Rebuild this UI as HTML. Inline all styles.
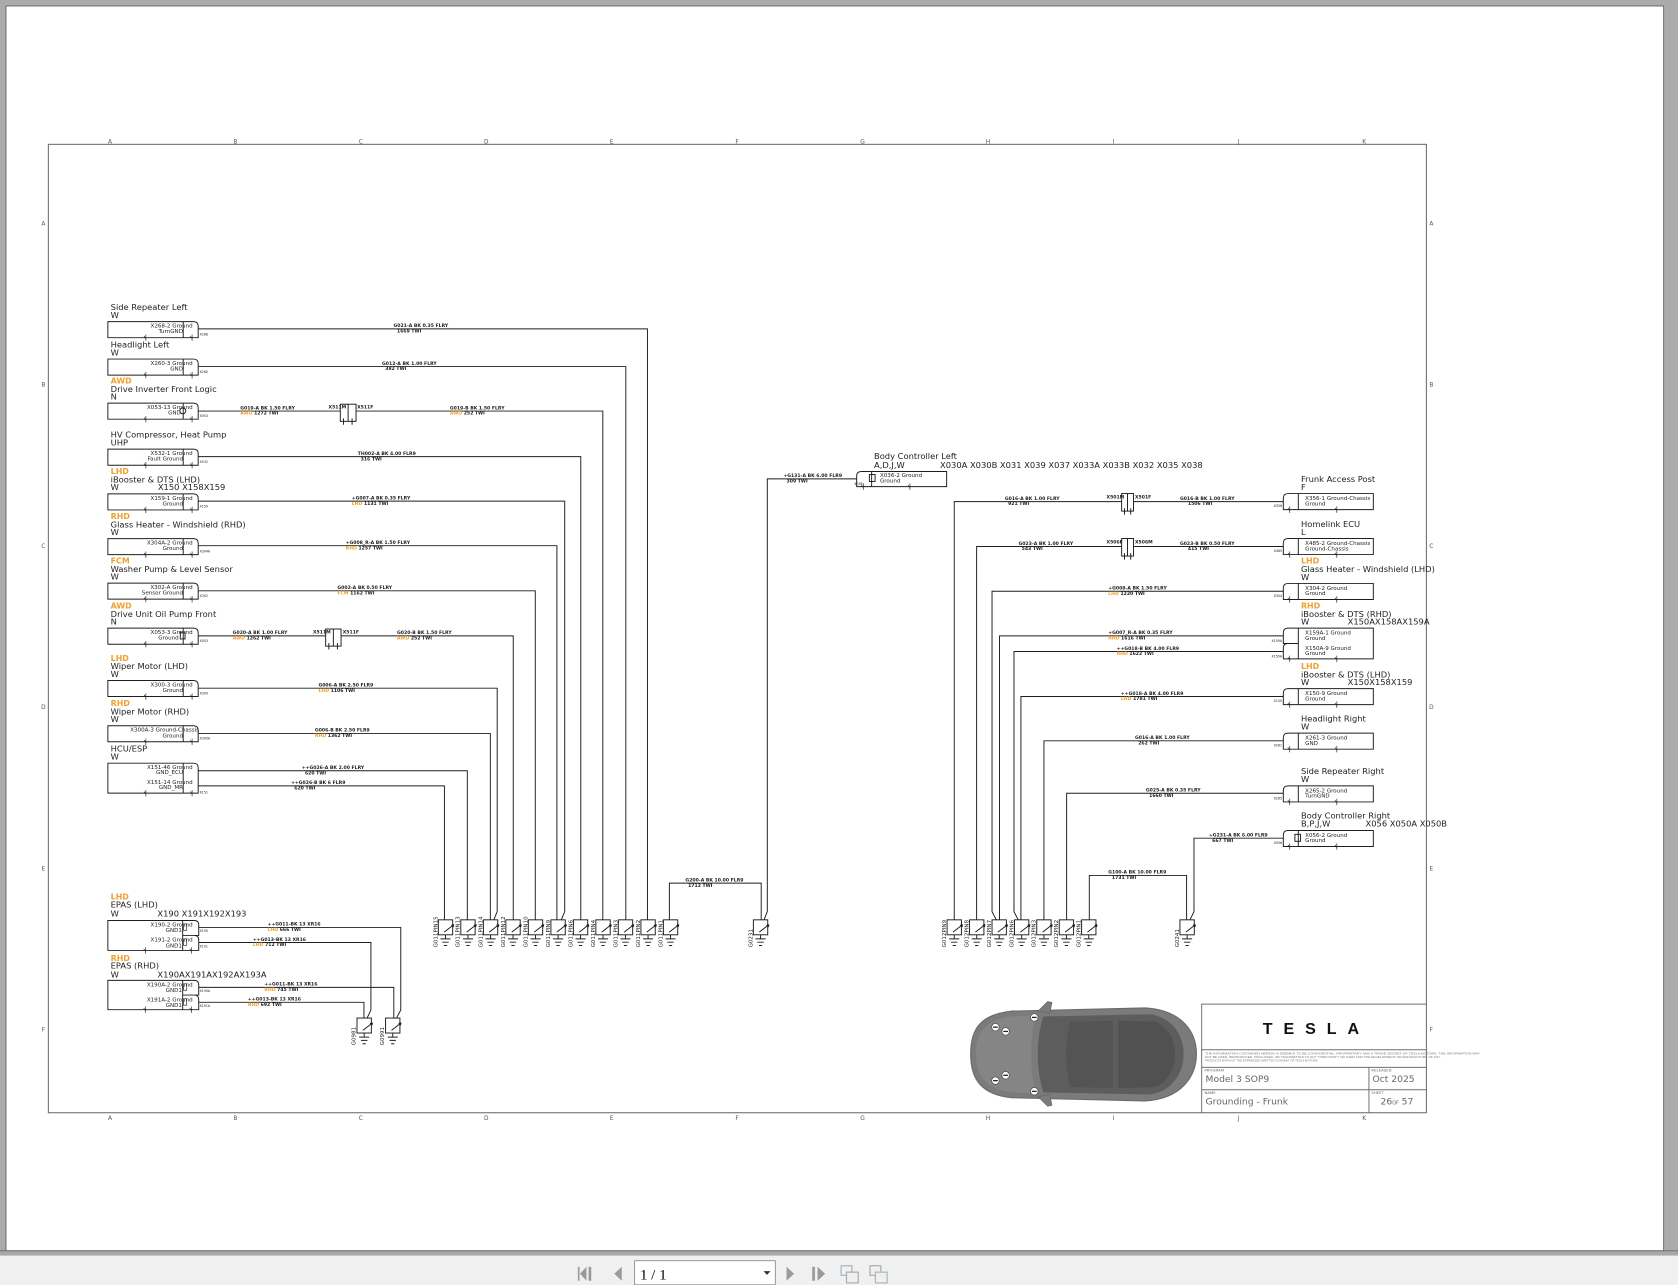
<!DOCTYPE html>
<html><head><meta charset="utf-8"><style>
html,body{margin:0;padding:0;background:#ababab;overflow:hidden}
svg{display:block}
.w{stroke:#1e1e1e;stroke-width:0.9;fill:none}
.wt{stroke:#1e1e1e;stroke-width:0.6;fill:none}
.t{font-family:"DejaVu Sans","Liberation Sans",sans-serif;fill:#222}
.ti{font-size:7.8px}
.o{font-family:"DejaVu Sans","Liberation Sans",sans-serif;font-size:7.4px;font-weight:bold;fill:#f0a030}
.bx{font-size:5.2px}
.wl{font-size:4.3px;font-weight:bold}
.pn{font-size:3px}
.lt{font-family:"DejaVu Sans","Liberation Sans",sans-serif;font-size:5.5px;fill:#555}
.og{fill:#f0a030;font-weight:bold}
.gl{font-family:"DejaVu Sans","Liberation Sans",sans-serif;font-size:5.2px;fill:#222}
.tb{font-family:"DejaVu Sans","Liberation Sans",sans-serif;fill:#666}
</style></head><body>
<svg width="1678" height="1285" viewBox="0 0 1568 1201" preserveAspectRatio="none" xmlns="http://www.w3.org/2000/svg">
<defs>
<g id="lb">
<path d="M0,0 H80 Q84.4,0 84.4,4.4 V15 H0 Z" class="w"/>
<path d="M70.4,0 V15" class="w"/>
<path d="M35.5,12 V18 M33.8,13.5 L35.5,16 M78.7,12 V18 M77,13.5 L78.7,16" class="wt"/>
</g>
<g id="rb">
<path d="M4.4,0 H84.1 V15 H0 V4.4 Q0,0 4.4,0 Z" class="w"/>
<path d="M14,0 V15" class="w"/>
<path d="M6,12 V18 M4.3,13.5 L6,16 M50,12 V18 M48.3,13.5 L50,16" class="wt"/>
</g>
<g id="gd">
<rect x="0" y="0" width="13.4" height="14" class="w"/>
<path d="M5.5,11.5 L14.5,4.5 M14.5,4.5 L12.2,5.1 M14.5,4.5 L13.8,6.8" class="w"/>
<path d="M6.7,14 V17.8 M2,17.8 H11.4 M3.7,20.9 H9.7 M5.2,24 H8.2" class="w"/>
</g>
</defs>

<!-- viewer background and page -->
<rect x="0" y="0" width="1568" height="1201" fill="#ababab"/>
<rect x="5.6" y="5.6" width="1549" height="1163.4" fill="#ffffff" stroke="#5a5a5a" stroke-width="0.8"/>
<!-- toolbar -->
<rect x="0" y="1169" width="1568" height="32" fill="#f0f0f0"/>
<rect x="0" y="1169" width="1568" height="4.5" fill="#a8a8a8"/>
<line x1="0" y1="1169" x2="1568" y2="1169" stroke="#666" stroke-width="0.8"/>
<polygon points="548,1184 548,1197 542,1190.5" fill="#9a9a9a"/>
<rect x="550" y="1184" width="2.5" height="13" fill="#9a9a9a"/>
<rect x="540" y="1184" width="1.5" height="13" fill="#9a9a9a"/>
<polygon points="581,1184 581,1197 574,1190.5" fill="#9a9a9a"/>
<rect x="593" y="1178.3" width="131.5" height="22.5" fill="#ffffff" stroke="#8a8a8a" stroke-width="0.8"/>
<text x="598" y="1196" font-family="Liberation Serif, serif" font-size="14" fill="#000">1 / 1</text>
<polygon points="713.5,1188 720,1188 716.7,1191.5" fill="#333"/>
<polygon points="735,1184 735,1197 742,1190.5" fill="#9a9a9a"/>
<rect x="759" y="1184" width="2.5" height="13" fill="#9a9a9a"/>
<polygon points="764,1184 764,1197 771,1190.5" fill="#9a9a9a"/>
<rect x="786" y="1183" width="10" height="9" fill="none" stroke="#a8b8c8" stroke-width="1.2"/>
<rect x="791" y="1189" width="11" height="10" fill="#f0f0f0" stroke="#b0b0b0" stroke-width="1.2"/>
<rect x="813" y="1183" width="10" height="9" fill="none" stroke="#b0b0b0" stroke-width="1.2"/>
<rect x="818" y="1189" width="11" height="10" fill="#f0f0f0" stroke="#a8c0b0" stroke-width="1.2"/>

<!-- drawing frame -->
<rect x="45.2" y="134.9" width="1287.7" height="905.1" fill="none" stroke="#6e6e6e" stroke-width="1"/>
<g class="lt" text-anchor="middle">
<text x="102.8" y="134.2">A</text><text x="220" y="134.2">B</text><text x="337.2" y="134.2">C</text><text x="454.4" y="134.2">D</text><text x="571.6" y="134.2">E</text><text x="688.8" y="134.2">F</text><text x="806" y="134.2">G</text><text x="923.2" y="134.2">H</text><text x="1040.4" y="134.2">I</text><text x="1157.6" y="134.2">J</text><text x="1274.8" y="134.2">K</text>
<text x="102.8" y="1047">A</text><text x="220" y="1047">B</text><text x="337.2" y="1047">C</text><text x="454.4" y="1047">D</text><text x="571.6" y="1047">E</text><text x="688.8" y="1047">F</text><text x="806" y="1047">G</text><text x="923.2" y="1047">H</text><text x="1040.4" y="1047">I</text><text x="1157.6" y="1047">J</text><text x="1274.8" y="1047">K</text>
<text x="40.5" y="210.7">A</text><text x="40.5" y="361.4">B</text><text x="40.5" y="512">C</text><text x="40.5" y="662.7">D</text><text x="40.5" y="813.4">E</text><text x="40.5" y="964">F</text>
<text x="1337.5" y="210.7">A</text><text x="1337.5" y="361.4">B</text><text x="1337.5" y="512">C</text><text x="1337.5" y="662.7">D</text><text x="1337.5" y="813.4">E</text><text x="1337.5" y="964">F</text>
</g>

<!-- ================= LEFT COMPONENTS ================= -->
<text class="t ti" x="103.4" y="289.6">Side Repeater Left</text>
<text class="t ti" x="103.4" y="297.1">W</text>
<use href="#lb" x="100.8" y="300.6"/>
<text class="t bx" x="180" y="306.2" text-anchor="end">X268-2 Ground</text>
<text class="t bx" x="171" y="311.4" text-anchor="end">TurnGND</text>
<text class="t pn" x="186.5" y="313.5">X268</text>
<path class="w" d="M185.2,307.4 H605 V859.7"/>
<text class="t wl" x="367.7" y="305.8">G021-A BK  0.35  FLRY</text>
<text class="t wl" x="371" y="310.8">1669  TWI</text>

<text class="t ti" x="103.4" y="324.6">Headlight Left</text>
<text class="t ti" x="103.4" y="332.1">W</text>
<use href="#lb" x="100.8" y="335.6"/>
<text class="t bx" x="180" y="341.2" text-anchor="end">X260-3 Ground</text>
<text class="t bx" x="171" y="346.4" text-anchor="end">GND</text>
<text class="t pn" x="186.5" y="348.5">X260</text>
<path class="w" d="M185.2,342.6 H584.8 V859.7"/>
<text class="t wl" x="357" y="341">G012-A BK  1.00  FLRY</text>
<text class="t wl" x="360" y="346">382  TWI</text>

<text class="o" x="103.4" y="358.4">AWD</text>
<text class="t ti" x="103.4" y="366.2">Drive Inverter Front Logic</text>
<text class="t ti" x="103.4" y="373.4">N</text>
<use href="#lb" x="100.8" y="376.8"/>
<circle cx="170.8" cy="384" r="2.8" class="w"/>
<text class="t bx" x="180" y="382.4" text-anchor="end">X053-13 Ground</text>
<text class="t bx" x="169" y="387.6" text-anchor="end">GND</text>
<text class="t pn" x="186.5" y="389.7">X053</text>
<path class="w" d="M185.2,384.2 H318 M332.7,384.2 H563.3 V859.7"/>
<rect x="318" y="377.8" width="14.7" height="16" class="w"/>
<path class="w" d="M325.3,377.8 V393.8 M321,391 V397 M329,391 V397"/>
<text class="t wl" x="307" y="382">X511M</text>
<text class="t wl" x="333.7" y="382">X511F</text>
<text class="t wl" x="224.5" y="382.6">G019-A BK  1.50  FLRY</text>
<text class="t wl" x="224.5" y="387.6"><tspan class="og">AWD</tspan> 1272  TWI</text>
<text class="t wl" x="420.4" y="382.6">G019-B BK  1.50  FLRY</text>
<text class="t wl" x="420.4" y="387.6"><tspan class="og">AWD</tspan> 252  TWI</text>

<text class="t ti" x="103.4" y="408.8">HV Compressor, Heat Pump</text>
<text class="t ti" x="103.4" y="416.3">UHP</text>
<use href="#lb" x="100.8" y="419.8"/>
<text class="t bx" x="180" y="425.4" text-anchor="end">X532-1 Ground</text>
<text class="t bx" x="171" y="430.6" text-anchor="end">Fault Ground</text>
<text class="t pn" x="186.5" y="432.7">X532</text>
<path class="w" d="M185.2,426.8 H542.7 V859.7"/>
<text class="t wl" x="334.3" y="425.2">TH002-A BK  4.00  FLR9</text>
<text class="t wl" x="337" y="430.2">316  TWI</text>

<text class="o" x="103.4" y="443.2">LHD</text>
<text class="t ti" x="103.4" y="451">iBooster &amp; DTS (LHD)</text>
<text class="t ti" x="103.4" y="458.2">W</text>
<text class="t ti" x="147.5" y="458.2">X150 X158X159</text>
<use href="#lb" x="100.8" y="461.6"/>
<text class="t bx" x="180" y="467.2" text-anchor="end">X159-1 Ground</text>
<text class="t bx" x="171" y="472.4" text-anchor="end">Ground</text>
<text class="t pn" x="186.5" y="474.5">X159</text>
<path class="w" d="M185.2,468.4 H527.7 V852 L524.5,859.7"/>
<text class="t wl" x="328.7" y="466.8">+G007-A BK  0.35  FLRY</text>
<text class="t wl" x="328.7" y="471.8"><tspan class="og">LHD</tspan> 1131  TWI</text>

<text class="o" x="103.4" y="485">RHD</text>
<text class="t ti" x="103.4" y="492.8">Glass Heater - Windshield (RHD)</text>
<text class="t ti" x="103.4" y="500">W</text>
<use href="#lb" x="100.8" y="503.4"/>
<text class="t bx" x="180" y="509" text-anchor="end">X304A-2 Ground</text>
<text class="t bx" x="171" y="514.2" text-anchor="end">Ground</text>
<text class="t pn" x="186.5" y="516.3">X304A</text>
<path class="w" d="M185.2,510 H520.4 V859.7"/>
<text class="t wl" x="323" y="508.4">+G008_R-A BK  1.50  FLRY</text>
<text class="t wl" x="323" y="513.4"><tspan class="og">RHD</tspan> 1257  TWI</text>

<text class="o" x="103.4" y="526.6">FCM</text>
<text class="t ti" x="103.4" y="534.4">Washer Pump &amp; Level Sensor</text>
<text class="t ti" x="103.4" y="541.6">W</text>
<use href="#lb" x="100.8" y="545"/>
<text class="t bx" x="180" y="550.6" text-anchor="end">X302-A Ground</text>
<text class="t bx" x="171" y="555.8" text-anchor="end">Sensor Ground</text>
<text class="t pn" x="186.5" y="557.9">X302</text>
<path class="w" d="M185.2,552.2 H500.2 V859.7"/>
<text class="t wl" x="315.3" y="550.6">G002-A BK  0.50  FLRY</text>
<text class="t wl" x="315.3" y="555.6"><tspan class="og">FCM</tspan> 1162  TWI</text>

<text class="o" x="103.4" y="568.7">AWD</text>
<text class="t ti" x="103.4" y="576.5">Drive Unit Oil Pump Front</text>
<text class="t ti" x="103.4" y="583.7">N</text>
<use href="#lb" x="100.8" y="587.1"/>
<rect x="168.5" y="590.8" width="4.4" height="6.4" class="w"/>
<text class="t bx" x="180" y="592.7" text-anchor="end">X053-3 Ground</text>
<text class="t bx" x="167" y="597.9" text-anchor="end">Ground</text>
<text class="t pn" x="186.5" y="600">X053</text>
<path class="w" d="M185.2,594.3 H304.3 M318.7,594.3 H479.6 V859.7"/>
<rect x="304.3" y="587.9" width="14.4" height="16" class="w"/>
<path class="w" d="M311.5,587.9 V603.9 M307.3,601 V607 M315.3,601 V607"/>
<text class="t wl" x="292.5" y="592">X511M</text>
<text class="t wl" x="320.3" y="592">X511F</text>
<text class="t wl" x="217.5" y="592.7">G020-A BK  1.00  FLRY</text>
<text class="t wl" x="217.5" y="597.7"><tspan class="og">AWD</tspan> 1262  TWI</text>
<text class="t wl" x="371" y="592.7">G020-B BK  1.50  FLRY</text>
<text class="t wl" x="371" y="597.7"><tspan class="og">AWD</tspan> 252  TWI</text>

<text class="o" x="103.4" y="617.6">LHD</text>
<text class="t ti" x="103.4" y="625.4">Wiper Motor (LHD)</text>
<text class="t ti" x="103.4" y="632.6">W</text>
<use href="#lb" x="100.8" y="636"/>
<text class="t bx" x="180" y="641.6" text-anchor="end">X300-3 Ground</text>
<text class="t bx" x="171" y="646.8" text-anchor="end">Ground</text>
<text class="t pn" x="186.5" y="648.9">X300</text>
<path class="w" d="M185.2,643.2 H464.6 V852 L461.5,859.7"/>
<text class="t wl" x="297.6" y="641.6">G006-A BK  2.50  FLR9</text>
<text class="t wl" x="297.6" y="646.6"><tspan class="og">LHD</tspan> 1106  TWI</text>

<text class="o" x="103.4" y="659.9">RHD</text>
<text class="t ti" x="103.4" y="667.7">Wiper Motor (RHD)</text>
<text class="t ti" x="103.4" y="674.9">W</text>
<use href="#lb" x="100.8" y="678.3"/>
<text class="t bx" x="186" y="683.9" text-anchor="end">X300A-3 Ground-Chassis</text>
<text class="t bx" x="171" y="689.1" text-anchor="end">Ground</text>
<text class="t pn" x="186.5" y="691.2">X300A</text>
<path class="w" d="M185.2,685.5 H458.2 V859.7"/>
<text class="t wl" x="294.3" y="683.9">G006-B BK  2.50  FLR9</text>
<text class="t wl" x="294.3" y="688.9"><tspan class="og">RHD</tspan> 1362  TWI</text>

<text class="t ti" x="103.4" y="702.3">HCU/ESP</text>
<text class="t ti" x="103.4" y="709.8">W</text>
<path class="w" d="M100.8,713.3 H180.8 Q185.2,713.3 185.2,717.7 V741.3 H100.8 Z"/>
<path class="w" d="M171.2,713.3 V741.3"/>
<path class="wt" d="M136.3,738.3 V744.3 M134.6,739.8 L136.3,742.3 M179.5,738.3 V744.3 M177.8,739.8 L179.5,742.3"/>
<text class="t bx" x="180" y="718.6" text-anchor="end">X151-46 Ground</text>
<text class="t bx" x="171" y="723.5" text-anchor="end">GND_ECU</text>
<text class="t bx" x="180" y="732.6" text-anchor="end">X151-14 Ground</text>
<text class="t bx" x="171" y="737.6" text-anchor="end">GND_MR</text>
<text class="t pn" x="186.5" y="741.5">X151</text>
<path class="w" d="M185.2,720.4 H436.7 V859.7"/>
<path class="w" d="M185.2,734.5 H415.3 V859.7"/>
<text class="t wl" x="282" y="718.8">++G026-A BK  2.00  FLRY</text>
<text class="t wl" x="285" y="723.8">620  TWI</text>
<text class="t wl" x="272" y="732.9">++G026-B BK  6  FLR9</text>
<text class="t wl" x="275" y="737.9">620  TWI</text>

<path class="w" d="M625.5,859.7 V825.4 H711.3 V859.7"/>
<text class="t wl" x="640.5" y="823.8">G200-A BK  10.00  FLR9</text>
<text class="t wl" x="643" y="828.8">1712  TWI</text>

<use href="#gd" x="409.6" y="859.7"/><use href="#gd" x="430.6" y="859.7"/><use href="#gd" x="451.7" y="859.7"/><use href="#gd" x="472.7" y="859.7"/><use href="#gd" x="493.7" y="859.7"/><use href="#gd" x="514.8" y="859.7"/><use href="#gd" x="535.8" y="859.7"/><use href="#gd" x="556.8" y="859.7"/><use href="#gd" x="577.8" y="859.7"/><use href="#gd" x="598.9" y="859.7"/><use href="#gd" x="619.9" y="859.7"/>
<use href="#gd" x="704" y="859.7"/>
<g class="gl">
<text transform="translate(408.6,885.5) rotate(-90)">G011PIN15</text>
<text transform="translate(429.6,885.5) rotate(-90)">G011PIN13</text>
<text transform="translate(450.7,885.5) rotate(-90)">G011PIN14</text>
<text transform="translate(471.7,885.5) rotate(-90)">G011PIN12</text>
<text transform="translate(492.7,885.5) rotate(-90)">G011PIN10</text>
<text transform="translate(513.8,885.5) rotate(-90)">G011PIN9</text>
<text transform="translate(534.8,885.5) rotate(-90)">G011PIN6</text>
<text transform="translate(555.8,885.5) rotate(-90)">G011PIN4</text>
<text transform="translate(576.8,885.5) rotate(-90)">G011PIN3</text>
<text transform="translate(597.9,885.5) rotate(-90)">G011PIN2</text>
<text transform="translate(618.9,885.5) rotate(-90)">G011PIN1</text>
<text transform="translate(703,885.5) rotate(-90)">G0231</text>
</g>

<!-- ================= EPAS ================= -->
<text class="o" x="103.4" y="840.6">LHD</text>
<text class="t ti" x="103.4" y="848.4">EPAS (LHD)</text>
<text class="t ti" x="103.4" y="856.6">W</text>
<text class="t ti" x="147.1" y="856.6">X190 X191X192X193</text>
<path class="w" d="M100.8,860.3 H170.7 V888.3 H100.8 Z"/>
<path class="w" d="M170.7,860.3 H181.5 Q185.7,860.3 185.7,864.5 V874.3 H170.7 M170.7,874.3 H181.5 Q185.7,874.3 185.7,878.5 V888.3 H170.7"/>
<rect x="171.5" y="863.5" width="3" height="6" class="wt"/>
<rect x="171.5" y="877.5" width="3" height="6" class="wt"/>
<path class="wt" d="M136,885.3 V891.3 M134.3,886.8 L136,889.3 M179,885.3 V891.3 M177.3,886.8 L179,889.3"/>
<text class="t bx" x="180" y="866" text-anchor="end">X190-2 Ground</text>
<text class="t bx" x="170" y="871" text-anchor="end">GND1</text>
<text class="t bx" x="180" y="880" text-anchor="end">X191-2 Ground</text>
<text class="t bx" x="170" y="885.5" text-anchor="end">GND1</text>
<text class="t pn" x="186.5" y="871">X190</text>
<text class="t pn" x="186.5" y="885.5">X191</text>
<path class="w" d="M185.7,866.8 H374.5 V944 L370.5,951.5"/>
<path class="w" d="M185.7,880.9 H346.6 V944 L343,951.5"/>
<text class="t wl" x="250" y="865.2">++G011-BK  13  XR16</text>
<text class="t wl" x="250" y="870.2"><tspan class="og">LHD</tspan> 666  TWI</text>
<text class="t wl" x="236.3" y="879.3">++G013-BK  13  XR16</text>
<text class="t wl" x="236.3" y="884.3"><tspan class="og">LHD</tspan> 712  TWI</text>

<text class="o" x="103.4" y="898">RHD</text>
<text class="t ti" x="103.4" y="905.4">EPAS (RHD)</text>
<text class="t ti" x="103.4" y="913.4">W</text>
<text class="t ti" x="147.1" y="913.4">X190AX191AX192AX193A</text>
<path class="w" d="M100.8,916.3 H170.7 V943.7 H100.8 Z"/>
<path class="w" d="M170.7,916.3 H181.5 Q185.7,916.3 185.7,920.5 V930 H170.7 M170.7,930 H181.5 Q185.7,930 185.7,934.2 V943.7 H170.7"/>
<rect x="171.5" y="919.5" width="3" height="6" class="wt"/>
<rect x="171.5" y="933.5" width="3" height="6" class="wt"/>
<path class="wt" d="M136,940.7 V946.7 M134.3,942.2 L136,944.7 M179,940.7 V946.7 M177.3,942.2 L179,944.7"/>
<text class="t bx" x="180" y="922" text-anchor="end">X190A-2 Ground</text>
<text class="t bx" x="170" y="927" text-anchor="end">GND1</text>
<text class="t bx" x="180" y="936" text-anchor="end">X191A-2 Ground</text>
<text class="t bx" x="170" y="941" text-anchor="end">GND1</text>
<text class="t pn" x="186.5" y="927">X190A</text>
<text class="t pn" x="186.5" y="941">X191A</text>
<path class="w" d="M185.7,922.8 H368 V951.5"/>
<path class="w" d="M185.7,936.8 H340.1 V951.5"/>
<text class="t wl" x="247" y="921.2">++G011-BK  13  XR16</text>
<text class="t wl" x="247" y="926.2"><tspan class="og">RHD</tspan> 745  TWI</text>
<text class="t wl" x="231.6" y="935.2">++G013-BK  13  XR16</text>
<text class="t wl" x="231.6" y="940.2"><tspan class="og">RHD</tspan> 692  TWI</text>
<use href="#gd" x="333.6" y="951.5"/>
<use href="#gd" x="360.3" y="951.5"/>
<g class="gl">
<text transform="translate(332.3,977) rotate(-90)">G0981</text>
<text transform="translate(359,977) rotate(-90)">G0991</text>
</g>

<!-- ================= BODY CONTROLLER LEFT ================= -->
<text class="t ti" x="816.7" y="428.8">Body Controller Left</text>
<text class="t ti" x="816.7" y="437.3">A,D,J,W</text>
<text class="t ti" x="878.4" y="437.3">X030A X030B X031 X039 X037 X033A X033B  X032 X035 X038</text>
<path class="w" d="M804.9,440.7 H884.6 V454.8 H800.5 V445.1 Q800.5,440.7 804.9,440.7 Z"/>
<path class="w" d="M814.5,440.7 V454.8"/>
<rect x="812.4" y="443.5" width="5.3" height="6.5" class="w"/>
<path class="wt" d="M806.7,451.8 V457.8 M805,453.3 L806.7,455.8 M850.3,451.8 V457.8 M848.6,453.3 L850.3,455.8"/>
<text class="t bx" x="822.3" y="445.6">X036-2 Ground</text>
<text class="t bx" x="822.3" y="450.8">Ground</text>
<text class="t pn" x="806" y="453.5" text-anchor="end">X036</text>
<path class="w" d="M800.5,447.6 H717 V852 L714,859.7"/>
<text class="t wl" x="732" y="446">+G131-A BK  6.00  FLR9</text>
<text class="t wl" x="735" y="451">309  TWI</text>

<!-- ================= RIGHT COMPONENTS ================= -->
<text class="t ti" x="1215.7" y="450.7">Frunk Access Post</text>
<text class="t ti" x="1215.7" y="458">F</text>
<use href="#rb" x="1199.2" y="461.3"/>
<text class="t bx" x="1219.6" y="467.3">X356-1 Ground-Chassis</text>
<text class="t bx" x="1219.6" y="472.3">Ground</text>
<text class="t pn" x="1198" y="474" text-anchor="end">X356</text>
<path class="w" d="M1199.2,468.8 H1059.2 M1048.1,468.8 H891.7 V859.7"/>
<rect x="1048.1" y="461.3" width="11.1" height="16.4" class="w"/>
<path class="w" d="M1053.6,461.3 V477.7 M1050.8,475 V481 M1056.6,475 V481"/>
<text class="t wl" x="1034" y="466">X501M</text>
<text class="t wl" x="1060.6" y="466">X501F</text>
<text class="t wl" x="939" y="467.2">G016-A BK  1.00  FLRY</text>
<text class="t wl" x="942" y="472.2">921  TWI</text>
<text class="t wl" x="1102.6" y="467.2">G016-B BK  1.00  FLRY</text>
<text class="t wl" x="1110" y="472.2">1506  TWI</text>

<text class="t ti" x="1215.7" y="492.7">Homelink ECU</text>
<text class="t ti" x="1215.7" y="500">L</text>
<use href="#rb" x="1199.2" y="503.3"/>
<text class="t bx" x="1219.6" y="509.3">X485-2 Ground-Chassis</text>
<text class="t bx" x="1219.6" y="514.3">Ground-Chassis</text>
<text class="t pn" x="1198" y="516" text-anchor="end">X485</text>
<path class="w" d="M1199.2,510.8 H1059.2 M1048.1,510.8 H912.6 V859.7"/>
<rect x="1048.1" y="503.3" width="11.1" height="16.4" class="w"/>
<path class="w" d="M1053.6,503.3 V519.7 M1050.8,517 V523 M1056.6,517 V523"/>
<text class="t wl" x="1034" y="508">X506F</text>
<text class="t wl" x="1060.6" y="508">X506M</text>
<text class="t wl" x="951.7" y="509.2">G023-A BK  1.00  FLRY</text>
<text class="t wl" x="954.7" y="514.2">543  TWI</text>
<text class="t wl" x="1102.6" y="509.2">G023-B BK  0.50  FLRY</text>
<text class="t wl" x="1110" y="514.2">415  TWI</text>

<text class="o" x="1215.7" y="526.9">LHD</text>
<text class="t ti" x="1215.7" y="534.7">Glass Heater - Windshield (LHD)</text>
<text class="t ti" x="1215.7" y="541.9">W</text>
<use href="#rb" x="1199.2" y="545.3"/>
<text class="t bx" x="1219.6" y="551.3">X304-2 Ground</text>
<text class="t bx" x="1219.6" y="556.3">Ground</text>
<text class="t pn" x="1198" y="558" text-anchor="end">X304</text>
<path class="w" d="M1199.2,552.6 H927 V852 L931,859.7"/>
<text class="t wl" x="1035.6" y="551">+G008-A BK  1.50  FLRY</text>
<text class="t wl" x="1035.6" y="556"><tspan class="og">LHD</tspan> 1220  TWI</text>

<text class="o" x="1215.7" y="568.7">RHD</text>
<text class="t ti" x="1215.7" y="576.5">iBooster &amp; DTS (RHD)</text>
<text class="t ti" x="1215.7" y="583.7">W</text>
<text class="t ti" x="1259.3" y="583.7">X150AX158AX159A</text>
<path class="w" d="M1213.2,587.1 H1283.3 V615.8 H1213.2 Z"/>
<path class="w" d="M1213.2,587.1 H1203.6 Q1199.2,587.1 1199.2,591.5 V601.4 H1213.2 M1213.2,601.4 H1203.6 Q1199.2,601.4 1199.2,605.8 V615.8 H1213.2"/>
<path class="wt" d="M1205.2,612.8 V618.8 M1203.5,614.3 L1205.2,616.8 M1249.2,612.8 V618.8 M1247.5,614.3 L1249.2,616.8"/>
<text class="t bx" x="1219.6" y="593">X159A-1 Ground</text>
<text class="t bx" x="1219.6" y="598">Ground</text>
<text class="t bx" x="1219.6" y="607.4">X150A-9 Ground</text>
<text class="t bx" x="1219.6" y="612.4">Ground</text>
<text class="t pn" x="1198" y="600" text-anchor="end">X159A</text>
<text class="t pn" x="1198" y="614.5" text-anchor="end">X150A</text>
<path class="w" d="M1199.2,594.3 H934 V859.7"/>
<path class="w" d="M1199.2,608.9 H947.5 V852 L951.5,859.7"/>
<text class="t wl" x="1035.6" y="592.7">+G007_R-A BK  0.35  FLRY</text>
<text class="t wl" x="1035.6" y="597.7"><tspan class="og">RHD</tspan> 1616  TWI</text>
<text class="t wl" x="1043.4" y="607.3">++G018-B BK  4.00  FLR9</text>
<text class="t wl" x="1043.4" y="612.3"><tspan class="og">RHD</tspan> 1622  TWI</text>

<text class="o" x="1215.7" y="625.2">LHD</text>
<text class="t ti" x="1215.7" y="633">iBooster &amp; DTS (LHD)</text>
<text class="t ti" x="1215.7" y="640.2">W</text>
<text class="t ti" x="1259.3" y="640.2">X150X158X159</text>
<use href="#rb" x="1199.2" y="643.6"/>
<text class="t bx" x="1219.6" y="649.6">X150-9 Ground</text>
<text class="t bx" x="1219.6" y="654.6">Ground</text>
<text class="t pn" x="1198" y="656.3" text-anchor="end">X150</text>
<path class="w" d="M1199.2,651 H954 V859.7"/>
<text class="t wl" x="1047.4" y="649.4">++G018-A BK  4.00  FLR9</text>
<text class="t wl" x="1047.4" y="654.4"><tspan class="og">LHD</tspan> 1781  TWI</text>

<text class="t ti" x="1215.7" y="674.2">Headlight Right</text>
<text class="t ti" x="1215.7" y="681.7">W</text>
<use href="#rb" x="1199.2" y="685.2"/>
<text class="t bx" x="1219.6" y="691.2">X261-3 Ground</text>
<text class="t bx" x="1219.6" y="696.2">GND</text>
<text class="t pn" x="1198" y="697.9" text-anchor="end">X261</text>
<path class="w" d="M1199.2,692.4 H975.5 V859.7"/>
<text class="t wl" x="1060.6" y="690.8">G016-A BK  1.00  FLRY</text>
<text class="t wl" x="1063.6" y="695.8">262  TWI</text>

<text class="t ti" x="1215.7" y="723.5">Side Repeater Right</text>
<text class="t ti" x="1215.7" y="731">W</text>
<use href="#rb" x="1199.2" y="734.5"/>
<text class="t bx" x="1219.6" y="740.5">X265-2 Ground</text>
<text class="t bx" x="1219.6" y="745.5">TurnGND</text>
<text class="t pn" x="1198" y="747.2" text-anchor="end">X265</text>
<path class="w" d="M1199.2,741.4 H996.7 V859.7"/>
<text class="t wl" x="1070.8" y="739.8">G025-A BK  0.35  FLRY</text>
<text class="t wl" x="1073.8" y="744.8">1660  TWI</text>

<text class="t ti" x="1215.7" y="765.2">Body Controller Right</text>
<text class="t ti" x="1215.7" y="772.7">B,P,J,W</text>
<text class="t ti" x="1276" y="772.7">X056 X050A X050B</text>
<use href="#rb" x="1199.2" y="776.2"/>
<rect x="1210" y="779.8" width="5.3" height="6.5" class="w"/>
<text class="t bx" x="1219.6" y="782.2">X056-2 Ground</text>
<text class="t bx" x="1219.6" y="787.2">Ground</text>
<text class="t pn" x="1198" y="788.9" text-anchor="end">X056</text>
<path class="w" d="M1199.2,783.4 H1115.7 V852 L1112,859.7"/>
<text class="t wl" x="1129.7" y="781.8">+G231-A BK  6.00  FLR9</text>
<text class="t wl" x="1132.7" y="786.8">667  TWI</text>

<path class="w" d="M1017.9,859.7 V818.2 H1108.8 V859.7"/>
<text class="t wl" x="1035.6" y="816.6">G100-A BK  10.00  FLR9</text>
<text class="t wl" x="1039" y="821.6">1731  TWI</text>

<use href="#gd" x="885" y="859.7"/><use href="#gd" x="906" y="859.7"/><use href="#gd" x="927" y="859.7"/><use href="#gd" x="948" y="859.7"/><use href="#gd" x="968.8" y="859.7"/><use href="#gd" x="989.8" y="859.7"/><use href="#gd" x="1010.7" y="859.7"/>
<use href="#gd" x="1102.6" y="859.7"/>
<g class="gl">
<text transform="translate(884,885.5) rotate(-90)">G012PIN9</text>
<text transform="translate(905,885.5) rotate(-90)">G012PIN8</text>
<text transform="translate(926,885.5) rotate(-90)">G012PIN7</text>
<text transform="translate(947,885.5) rotate(-90)">G012PIN6</text>
<text transform="translate(967.8,885.5) rotate(-90)">G012PIN3</text>
<text transform="translate(988.8,885.5) rotate(-90)">G012PIN2</text>
<text transform="translate(1009.7,885.5) rotate(-90)">G012PIN1</text>
<text transform="translate(1101.6,885.5) rotate(-90)">G0241</text>
</g>

<!-- ================= CAR ================= -->
<g>
<path d="M907,985 C907,960 918,948 945,945 L1070,942 C1105,944 1118,965 1118,985 C1118,1005 1105,1027 1070,1029 L945,1026 C918,1023 907,1010 907,985 Z" fill="#7b7b7b" stroke="#6a6a6a" stroke-width="1"/>
<path d="M912,985 C912,964 922,953 945,950 L968,949 C962,970 962,1000 968,1022 L945,1021 C922,1018 912,1006 912,985 Z" fill="#858585"/>
<path d="M975,950 L1075,948 C1098,952 1106,970 1106,985 C1106,1000 1098,1019 1075,1023 L975,1021 C968,1000 968,970 975,950 Z" fill="#5d5d5d"/>
<path d="M1000,955 L1040,954 L1040,1017 L1000,1016 C995,995 995,975 1000,955 Z" fill="#545454"/>
<path d="M1045,954 L1080,955 C1094,962 1098,975 1098,985 C1098,996 1094,1009 1080,1016 L1045,1017 Z" fill="#515151"/>
<path d="M970,945 L979,936 L983,937 L981,947 Z" fill="#7b7b7b" stroke="#666" stroke-width="0.6"/>
<path d="M970,1025 L979,1034 L983,1033 L981,1023 Z" fill="#7b7b7b" stroke="#666" stroke-width="0.6"/>
<g fill="#ffffff" stroke="#444" stroke-width="0.6">
<circle cx="930.2" cy="960" r="3.5"/><circle cx="939.7" cy="964" r="3.5"/>
<circle cx="930.2" cy="1010" r="3.5"/><circle cx="939.7" cy="1005" r="3.5"/>
<circle cx="966.5" cy="950.9" r="3.5"/><circle cx="966.5" cy="1020" r="3.5"/>
</g>
<g fill="#222"><rect x="928" y="959.4" width="4.4" height="1.2"/><rect x="937.5" y="963.4" width="4.4" height="1.2"/><rect x="928" y="1009.4" width="4.4" height="1.2"/><rect x="937.5" y="1004.4" width="4.4" height="1.2"/><rect x="964.3" y="950.3" width="4.4" height="1.2"/><rect x="964.3" y="1019.4" width="4.4" height="1.2"/></g>
</g>

<!-- ================= TITLE BLOCK ================= -->
<path d="M1122.9,1040 V938.5 H1332.9 M1122.9,981.1 H1332.9 M1122.9,997.6 H1332.9 M1122.9,1018.5 H1332.9 M1279.2,997.6 V1040" fill="none" stroke="#6e6e6e" stroke-width="0.9"/>
<text x="1225" y="966.5" text-anchor="middle" font-family="Liberation Sans, sans-serif" font-weight="bold" font-size="15" fill="#111" textLength="90" lengthAdjust="spacing">TESLA</text>
<g font-family="Liberation Sans, sans-serif" font-size="2.6" fill="#777">
<text x="1126" y="985.5" textLength="257" lengthAdjust="spacingAndGlyphs">THE INFORMATION CONTAINED HEREIN IS DEEMED TO BE CONFIDENTIAL, PROPRIETARY AND A TRADE SECRET OF TESLA MOTORS. THE INFORMATION MAY</text>
<text x="1126" y="988.8" textLength="220" lengthAdjust="spacingAndGlyphs">NOT BE USED, REPRODUCED, DISCLOSED, OR TRANSMITTED TO ANY THIRD PARTY OR USED FOR THE DEVELOPMENT OR MANUFACTURE OF ANY</text>
<text x="1126" y="992.1" textLength="106" lengthAdjust="spacingAndGlyphs">PRODUCTS WITHOUT THE EXPRESSED WRITTEN CONSENT OF TESLA MOTORS.</text>
</g>
<text class="tb" x="1125.5" y="1001.5" font-size="3.6">PROGRAM</text>
<text class="tb" x="1126.5" y="1011.5" font-size="8.6">Model 3 SOP9</text>
<text class="tb" x="1281.5" y="1001.5" font-size="3.6">RELEASED</text>
<text class="tb" x="1282.5" y="1011.5" font-size="8.6">Oct 2025</text>
<text class="tb" x="1125.5" y="1022.5" font-size="3.6">NAME</text>
<text class="tb" x="1126.5" y="1032.5" font-size="8.6">Grounding - Frunk</text>
<text class="tb" x="1281.5" y="1022.5" font-size="3.6">SHEET</text>
<text class="tb" x="1290" y="1032.5" font-size="8.6">26<tspan font-size="4.5">OF</tspan> 57</text>
</svg>
</body></html>
